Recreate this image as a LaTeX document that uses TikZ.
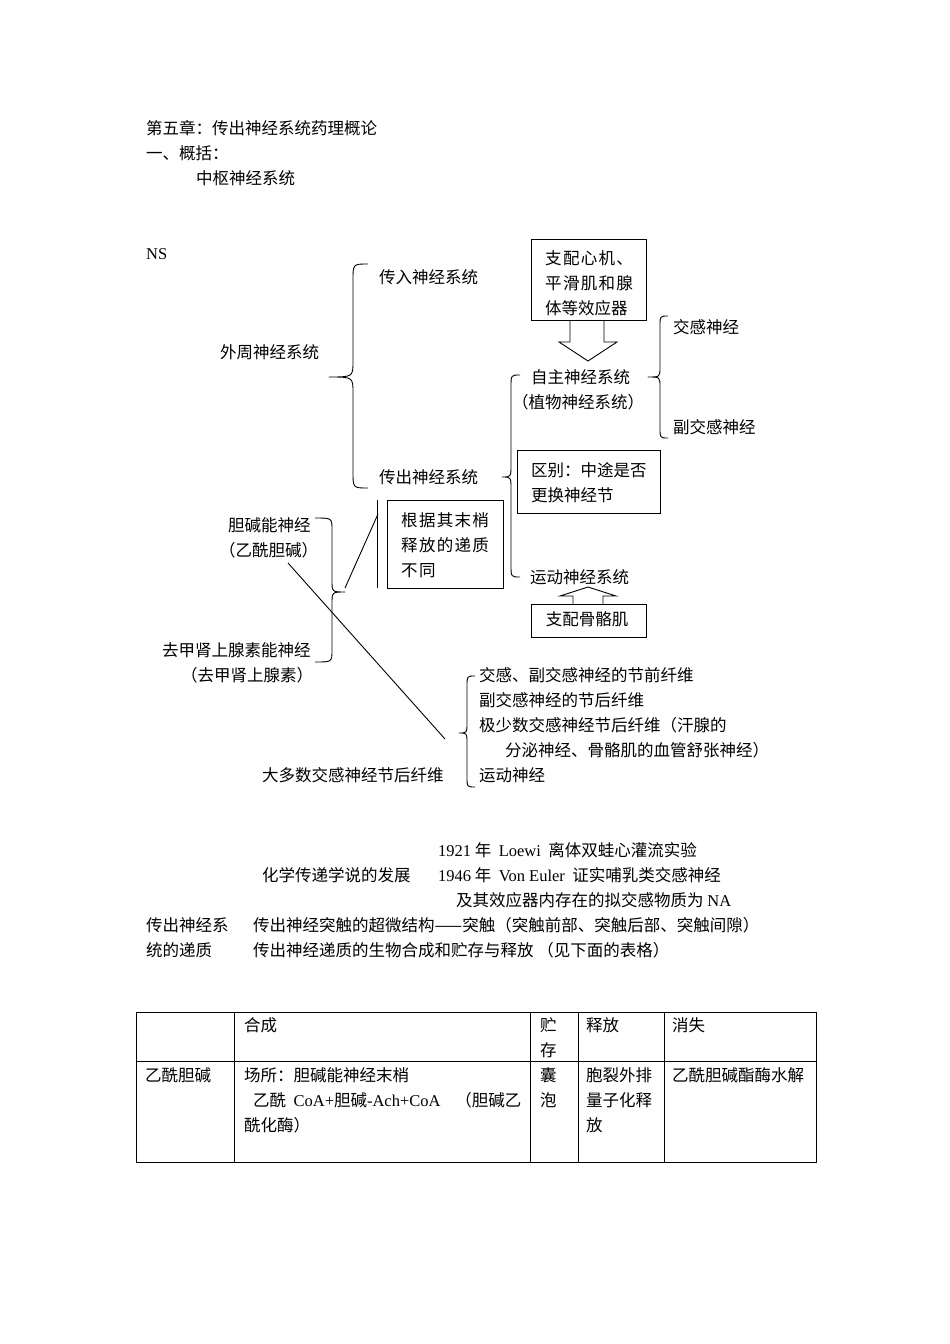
\documentclass[tikz,border=0pt]{standalone}
\usepackage{fontspec}
\setmainfont{Liberation Serif}
\newfontfamily\cjk{Noto Sans CJK SC}
\newfontfamily\cjkw{Noto Sans CJK SC}[LetterSpace=8]
\newcommand\bracepath[7]{%
  \draw[br] (#1,#4) .. controls (#2,#4) .. (#2,#4+#7) -- (#2,#5-#7)
    .. controls (#2,#5) .. (#3,#5) .. controls (#2,#5) .. (#2,#5+#7)
    -- (#2,#6-#7) .. controls (#2,#6) .. (#1,#6);}
\begin{document}
\begin{tikzpicture}[x=1pt,y=-1pt,
  t/.style={anchor=base west, inner sep=0pt, font=\cjk\fontsize{16.5}{25}\selectfont},
  tw/.style={anchor=base west, inner sep=0pt, font=\cjkw\fontsize{16.5}{25}\selectfont},
  bx/.style={draw, line width=1pt, anchor=north west, inner sep=0pt},
  br/.style={line width=0.9pt, line join=round},
  ln/.style={line width=0.9pt},
  tb/.style={line width=0.9pt}]
\useasboundingbox (0,0) rectangle (950,1344);
% header
\node[t] (h1) at (146,134) {第五章：传出神经系统药理概论};
\node[t] (h2) at (146,159) {一、概括：};
\node[t] (h3) at (196,184) {中枢神经系统};
\node[t] (ns) at (146,259) {\rmfamily NS};
% big brace
\node[t] (cr) at (379,283) {传入神经系统};
\node[t] (wz) at (220,358) {外周神经系统};
\node[t] (cc) at (379,483) {传出神经系统};
\bracepath{368}{353}{329}{264}{377}{488}{16}
% box 1 and arrow
\node[bx, minimum width=115pt, minimum height=81pt] (b1) at (531,239) {};
\node[tw] (b1a) at (545,264) {支配心机、};
\node[tw] (b1b) at (545,289) {平滑肌和腺};
\node[t] (b1c) at (545,314) {体等效应器};
\draw[ln, line join=miter] (570,320) -- (570,342) -- (559,342) -- (588,361) -- (617,342) -- (604,342) -- (604,320);
% autonomic
\node[t] (zz) at (531,383) {自主神经系统};
\node[t] (zw) at (512,408) {（植物神经系统）};
\bracepath{668}{660}{648}{316}{377}{438}{10}
\node[t] (jg) at (673,333) {交感神经};
\node[t] (fj) at (673,433) {副交感神经};
% efferent brace
\bracepath{520}{511}{502}{375}{477}{577}{12}
\node[bx, minimum width=143pt, minimum height=63pt] (b2) at (517,450) {};
\node[t] (b2a) at (531,476) {区别：中途是否};
\node[t] (b2b) at (531,501) {更换神经节};
\node[t] (yd) at (530,583) {运动神经系统};
% up arrow and box
\node[bx, minimum width=115pt, minimum height=33pt] (b4) at (531,604) {};
\node[t, anchor=center] (b4a) at (587,619) {支配骨骼肌};
\draw[ln, line join=miter] (573,604) -- (573,596) -- (560,596) -- (588,587) -- (616,596) -- (603,596) -- (603,604);
% box 3
\draw[ln] (377,500) coordinate (v1) -- (377,588) coordinate (v2);
\node[bx, minimum width=116pt, minimum height=88pt] (b3) at (387,500) {};
\node[tw] (b3a) at (401,526) {根据其末梢};
\node[tw] (b3b) at (401,551) {释放的递质};
\node[tw] (b3c) at (401,576) {不同};
% cholinergic brace
\node[t] (dj) at (228,531) {胆碱能神经};
\node[t] (yx) at (219,556) {（乙酰胆碱）};
\node[t] (qj) at (162,656) {去甲肾上腺素能神经};
\node[t] (qs) at (181,681) {（去甲肾上腺素）};
\bracepath{315}{332}{345}{518}{592}{662}{12}
\coordinate (tip4) at (345,588);
\coordinate (vt) at (378,514);
\draw[ln] (tip4) -- (vt);
\coordinate (d1) at (288,563);
\coordinate (d2) at (445,739);
\draw[ln] (d1) -- (d2);
% lower brace
\bracepath{475}{467}{459}{676}{733}{787}{10}
\node[t] (l1) at (479,681) {交感、副交感神经的节前纤维};
\node[t] (l2) at (479,706) {副交感神经的节后纤维};
\node[t] (l3) at (479,731) {极少数交感神经节后纤维（汗腺的};
\node[t] (l4) at (505,756) {分泌神经、骨骼肌的血管舒张神经）};
\node[t] (l5) at (479,781) {运动神经};
\node[t] (dd) at (262,781) {大多数交感神经节后纤维};
% text block
\node[t] (p1) at (438,856) {{\rmfamily 1921} 年\ \ {\rmfamily Loewi}\ \ 离体双蛙心灌流实验};
\node[t] (p2) at (262,881) {化学传递学说的发展};
\node[t] (p3) at (438,881) {{\rmfamily 1946} 年\ \ {\rmfamily Von Euler}\ \ 证实哺乳类交感神经};
\node[t] (p4) at (456,906) {及其效应器内存在的拟交感物质为 {\rmfamily NA}};
\node[t] (q1) at (146,931) {传出神经系};
\node[t] (q2) at (253,931) {传出神经突触的超微结构——突触（突触前部、突触后部、突触间隙）};
\node[t] (q3) at (146,956) {统的递质};
\node[t] (q4) at (253,956) {传出神经递质的生物合成和贮存与释放\ （见下面的表格）};
% table
\draw[tb] (136,1012) rectangle (816,1162);
\draw[tb] (136,1061) -- (816,1061);
\foreach \x in {234,530,578,664} \draw[tb] (\x,1012) -- (\x,1162);
\node[t] (c1) at (244,1031) {合成};
\node[t] (c2) at (540,1031) {贮};
\node[t] (c2b) at (540,1056) {存};
\node[t] (c3) at (586,1031) {释放};
\node[t] (c4) at (672,1031) {消失};
\node[t] (r0) at (145,1081) {乙酰胆碱};
\node[t] (r1) at (244,1081) {场所：胆碱能神经末梢};
\node[t] (r1b) at (253,1106) {乙酰\ \ {\rmfamily CoA+}胆碱{\rmfamily -Ach+CoA}\ \ \ \ （胆碱乙};
\node[t] (r1c) at (244,1131) {酰化酶）};
\node[t] (r2) at (540,1081) {囊};
\node[t] (r2b) at (540,1106) {泡};
\node[t] (r3) at (586,1081) {胞裂外排};
\node[t] (r3b) at (586,1106) {量子化释};
\node[t] (r3c) at (586,1131) {放};
\node[t] (r4) at (672,1081) {乙酰胆碱酯酶水解};
\end{tikzpicture}
\end{document}
